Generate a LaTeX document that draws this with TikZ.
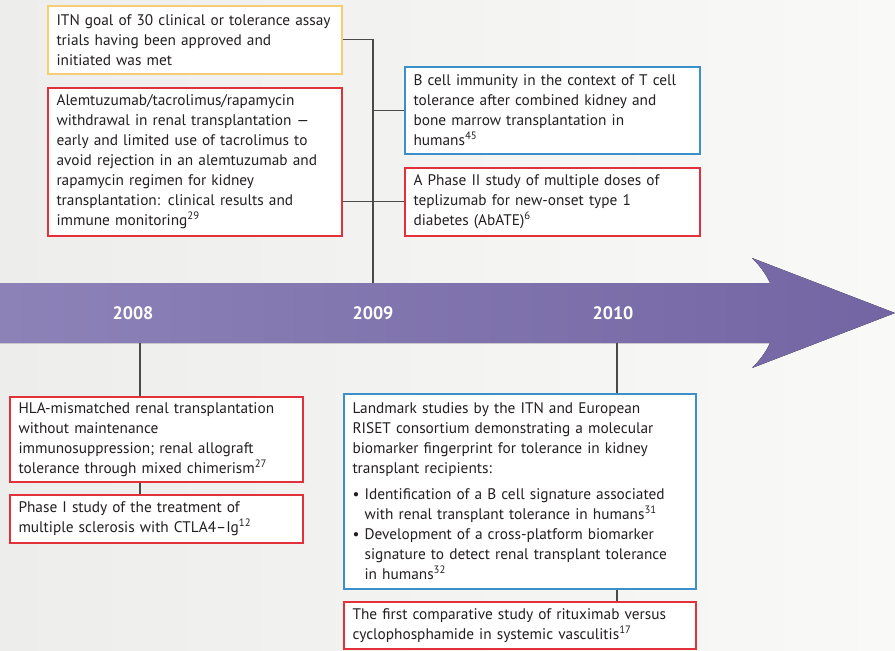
\documentclass[tikz,border=0pt]{standalone}
\usepackage{fontspec}
\setmainfont{PT Sans}
\definecolor{boxred}{HTML}{E2313B}
\definecolor{boxblue}{HTML}{3B8FCB}
\definecolor{boxyellow}{HTML}{F6CD74}
\definecolor{linegray}{HTML}{4A4A4A}
\definecolor{arrowL}{HTML}{8D82B8}
\definecolor{arrowR}{HTML}{7365A3}
\definecolor{bgL}{HTML}{EDEEEC}
\definecolor{bgR}{HTML}{F9F9F8}
\definecolor{txt}{HTML}{231F20}
\newcommand{\bul}{\phantom{\textbullet\ }}
\newcommand{\boxfont}{\fontsize{11.5}{15}\selectfont\hyphenpenalty=10000\relax\exhyphenpenalty=10000\relax}
\begin{document}
\begin{tikzpicture}[x=0.75pt,y=-0.75pt,
  ev/.style={line width=1.3pt, fill=white, anchor=north west, align=left,
    inner xsep=6.5pt, inner ysep=3pt, font=\boxfont, text=txt},
  redbox/.style={ev, draw=boxred},
  bluebox/.style={ev, draw=boxblue},
  yellowbox/.style={ev, draw=boxyellow},
  conn/.style={draw=linegray, line width=0.8pt},
  year/.style={text=white, font=\bfseries\fontsize{13.5}{15}\selectfont}
]
\fill[left color=bgL, right color=bgR] (0,0) rectangle (895,650);
\useasboundingbox (0,0) rectangle (895,650);

% timeline arrow
\fill[left color=arrowL, right color=arrowR]
  (0,283) -- (770,283) .. controls (765,272) and (758,264) .. (752,258)
  -- (895,313) -- (752,368) .. controls (758,362) and (765,354) .. (770,343)
  -- (0,343) -- cycle;

\node[year] (y2008) at (133,313) {2008};
\node[year] (y2009) at (373,313) {2009};
\node[year] (y2010) at (613,313) {2010};

\coordinate (t2009) at (373,283);
\coordinate (b2008) at (140,343);
\coordinate (b2010) at (617,343);

% boxes
\node[yellowbox, text width=207.5pt, minimum height=51pt] (b1) at (47,5)
 {ITN goal of 30 clinical or tolerance assay\\trials having been approved and\\initiated was met};
\node[redbox, text width=207.5pt, minimum height=111pt] (b2) at (47,87)
 {Alemtuzumab/tacrolimus/rapamycin\\withdrawal in renal transplantation —\\early and limited use of tacrolimus to\\avoid rejection in an alemtuzumab and\\rapamycin regimen for kidney\\transplantation: clinical results and\\immune monitoring\textsuperscript{29}};
\node[bluebox, text width=208.25pt, minimum height=65.25pt] (b3) at (404,66)
 {B cell immunity in the context of T cell\\tolerance after combined kidney and\\bone marrow transplantation in\\humans\textsuperscript{45}};
\node[redbox, text width=208.25pt, minimum height=51pt] (b4) at (404,167)
 {A Phase II study of multiple doses of\\teplizumab for new-onset type 1\\diabetes (AbATE)\textsuperscript{6}};
\node[redbox, text width=206.75pt, minimum height=63.75pt] (b5) at (9,396)
 {HLA-mismatched renal transplantation\\without maintenance\\immunosuppression; renal allograft\\tolerance through mixed chimerism\textsuperscript{27}};
\node[redbox, text width=206.75pt, minimum height=36pt] (b6) at (9,494)
 {Phase I study of the treatment of\\multiple sclerosis with CTLA4–Ig\textsuperscript{12}};
\node[bluebox, text width=251pt, minimum height=146.25pt] (b7) at (343,393)
 {Landmark studies by the ITN and European\\RISET consortium demonstrating a molecular\\biomarker fingerprint for tolerance in kidney\\transplant recipients:\\[4.5pt]
  \textbullet\ Identification of a B cell signature associated\\
  \bul with renal transplant tolerance in humans\textsuperscript{31}\\
  \textbullet\ Development of a cross-platform biomarker\\
  \bul signature to detect renal transplant tolerance\\
  \bul in humans\textsuperscript{32}};
\node[redbox, text width=251pt, minimum height=35.25pt] (b8) at (343,601)
 {The first comparative study of rituximab versus\\cyclophosphamide in systemic vasculitis\textsuperscript{17}};

% connectors
\draw[conn] (b1.east) -| (t2009);
\draw[conn] (b3.west) -- (b3.west -| t2009);
\draw[conn] (b2.east |- b4.west) -- (b4.west);
\draw[conn] (b2008) -- (b2008 |- b5.north);
\draw[conn] (b2008 |- b5.south) -- (b2008 |- b6.north);
\draw[conn] (b2010) -- (b2010 |- b7.north);
\draw[conn] (b2010 |- b7.south) -- (b2010 |- b8.north);
\end{tikzpicture}
\end{document}
